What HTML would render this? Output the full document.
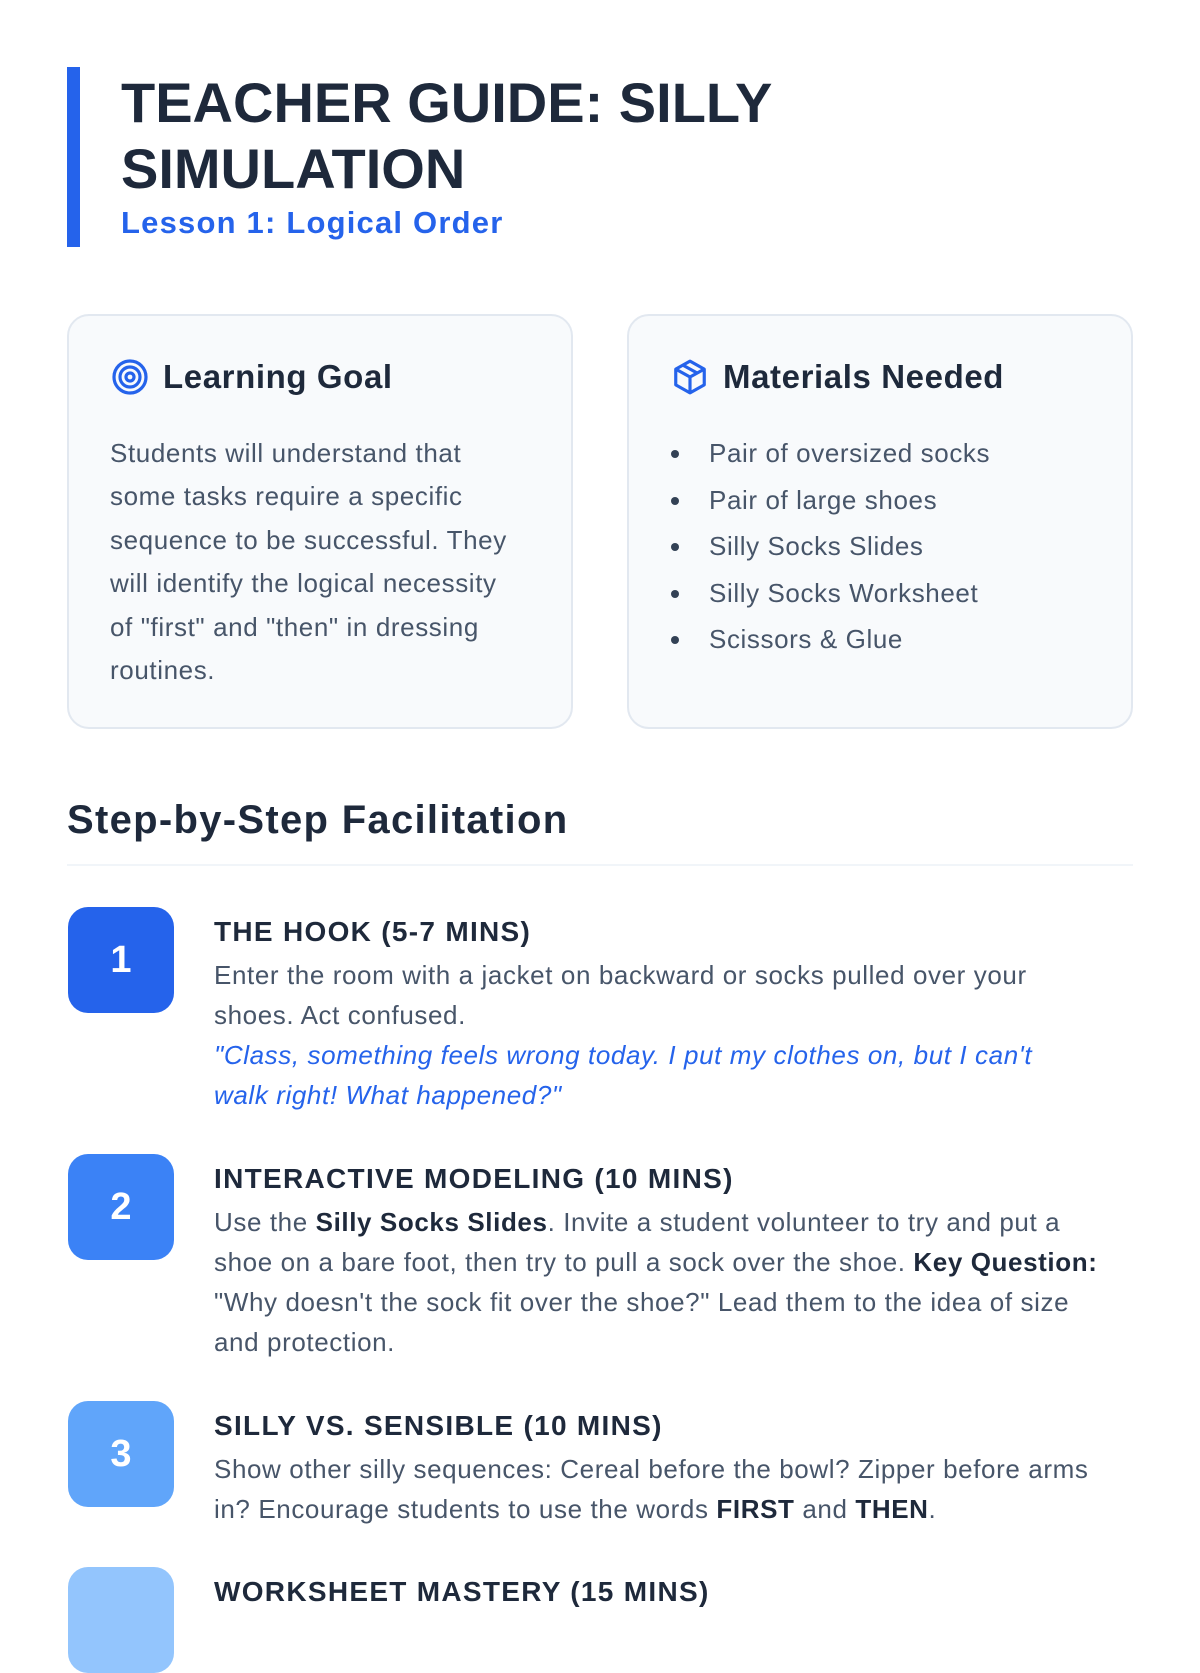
<!DOCTYPE html>
<html><head><meta charset="utf-8"><style>
*{margin:0;padding:0;box-sizing:border-box}
body{width:1200px;height:1600px;overflow:hidden;background:#fff;font-family:"Liberation Sans",sans-serif;color:#475569;position:relative}
.abs{position:absolute}
.bar{left:67px;top:67px;width:13px;height:180px;background:#2563eb}
h1{position:absolute;left:121px;top:70px;font-size:56px;line-height:66px;font-weight:bold;color:#1e293b;letter-spacing:0px}
.sub{left:121px;top:205px;font-size:31px;font-weight:bold;color:#2563eb;letter-spacing:1.2px}
.card{position:absolute;top:314px;width:506px;height:415px;background:#f8fafc;border:2px solid #e2e8f0;border-radius:22px}
.ch{position:absolute;left:42px;top:42px;font-size:33px;font-weight:bold;color:#1e293b;display:flex;align-items:center;gap:14px;letter-spacing:0.6px}
.cb{position:absolute;left:41px;top:116px;width:405px;font-size:26px;line-height:43.4px;letter-spacing:0.6px}
ul{position:absolute;left:40px;top:114px;list-style:none;font-size:26px;line-height:46.6px;letter-spacing:0.6px}
ul li{padding-left:40px;position:relative}
ul li:before{content:"";position:absolute;left:2px;top:20px;width:8px;height:8px;border-radius:50%;background:#334155}
.sec{left:67px;top:798px;font-size:40px;font-weight:bold;color:#1e293b;letter-spacing:1.3px}
.rule{left:67px;top:864px;width:1066px;height:2px;background:#f1f5f9}
.num{position:absolute;left:68px;width:106px;height:106px;border-radius:20px;color:#fff;font-size:38px;font-weight:bold;display:flex;align-items:center;justify-content:center}
.st{position:absolute;left:214px;width:905px;font-size:26px;line-height:40px;letter-spacing:0.6px}
.st h3{font-size:28px;color:#1e293b;line-height:40px;margin-bottom:3px;letter-spacing:1.3px}
.st b{color:#1e293b}
.q{color:#2563eb;font-style:italic}
</style></head><body>
<div class="abs bar"></div>
<h1>TEACHER GUIDE: SILLY<br>SIMULATION</h1>
<div class="abs sub">Lesson 1: Logical Order</div>

<div class="card" style="left:67px">
<div class="ch"><svg width="38" height="38" viewBox="0 0 38 38" fill="none" stroke="#2563eb" stroke-width="3.2"><circle cx="19" cy="19" r="16"/><circle cx="19" cy="19" r="10"/><circle cx="19" cy="19" r="4"/></svg>Learning Goal</div>
<div class="cb">Students will understand that some tasks require a specific sequence to be successful. They will identify the logical necessity of "first" and "then" in dressing routines.</div>
</div>
<div class="card" style="left:627px">
<div class="ch"><svg width="38" height="38" viewBox="0 0 24 24" fill="none" stroke="#2563eb" stroke-width="2" stroke-linejoin="round"><path d="M12 2l9 5v10l-9 5-9-5V7z"/><path d="M3 7l9 5 9-5M12 12v10M7.5 4.5l9 5"/></svg>Materials Needed</div>
<ul><li>Pair of oversized socks</li><li>Pair of large shoes</li><li>Silly Socks Slides</li><li>Silly Socks Worksheet</li><li>Scissors &amp; Glue</li></ul>
</div>

<div class="abs sec">Step-by-Step Facilitation</div>
<div class="abs rule"></div>

<div class="num" style="top:907px;background:#2563eb">1</div>
<div class="st" style="top:912px;width:870px"><h3>THE HOOK (5-7 MINS)</h3>Enter the room with a jacket on backward or socks pulled over your shoes. Act confused.<br><span class="q">"Class, something feels wrong today. I put my clothes on, but I can't walk right! What happened?"</span></div>

<div class="num" style="top:1154px;background:#3b82f6">2</div>
<div class="st" style="top:1159px"><h3>INTERACTIVE MODELING (10 MINS)</h3>Use the <b>Silly Socks Slides</b>. Invite a student volunteer to try and put a shoe on a bare foot, then try to pull a sock over the shoe. <b>Key Question:</b> "Why doesn't the sock fit over the shoe?" Lead them to the idea of size and protection.</div>

<div class="num" style="top:1401px;background:#60a5fa">3</div>
<div class="st" style="top:1406px"><h3>SILLY VS. SENSIBLE (10 MINS)</h3>Show other silly sequences: Cereal before the bowl? Zipper before arms in? Encourage students to use the words <b>FIRST</b> and <b>THEN</b>.</div>

<div class="num" style="top:1567px;background:#93c5fd"></div>
<div class="st" style="top:1572px"><h3>WORKSHEET MASTERY (15 MINS)</h3></div>
</body></html>
